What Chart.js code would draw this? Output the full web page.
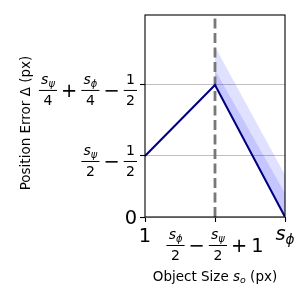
<!DOCTYPE html>
<html>
<head>
<meta charset="utf-8">
<script src="https://cdn.jsdelivr.net/npm/chart.js@4.4.0/dist/chart.umd.min.js"></script>
<style>
  html, body { margin: 0; padding: 0; background: #fff; }
</style>
</head>
<body>
<canvas id="chart" width="300" height="300"></canvas>
<script>
// tick positions (x is normalised: 1 -> 0, s_phi -> 1)
const xTicks = [0, 0.5, 1];
const yTicks = [0, 1, 2.164];
const yMax = 3.31;

// error curve
const lineX = [0, 0.5, 1];
const lineY = [1, 2.164, 0];

// shaded bands to the right of the split
const bandX = [0.5, 1];
const bandLowY = [2.164, 0];
const bandMidY = [2.41, 0.39];
const bandHighY = [2.79, 0.69];
const splitX = 0.5;

// tick label texts (math pieces)
const yTickText = [
    [{ t: '0' }],
    [{ frac: [[{ it: 's', sub: 'ψ' }], [{ t: '2' }]] }, { op: '−' }, { frac: [[{ t: '1' }], [{ t: '2' }]] }],
    [{ frac: [[{ it: 's', sub: 'ψ' }], [{ t: '4' }]] }, { op: '+' }, { frac: [[{ it: 's', sub: 'ϕ' }], [{ t: '4' }]] },
     { op: '−' }, { frac: [[{ t: '1' }], [{ t: '2' }]] }]
];
const xTickText = [
    [{ t: '1' }],
    [{ frac: [[{ it: 's', sub: 'ϕ' }], [{ t: '2' }]] }, { op: '−' }, { frac: [[{ it: 's', sub: 'ψ' }], [{ t: '2' }]] },
     { op: '+' }, { t: '1' }],
    [{ it: 's', sub: 'ϕ' }]
];
const xTitle = [{ t: 'Object Size ' }, { it: 's', sub: 'o' }, { t: ' (px)' }];
const yTitle = 'Position Error Δ (px)';

const BASE = 19.4, FRAC = 14, SUBK = 0.7, TITLE = 13.5;
const PAD = 2.2, OPSP = 4, AXIS = 0.33, NUMUP = 6.5, DENDN = 14.3;

function setFont(ctx, size, italic) {
    ctx.font = (italic ? 'italic ' : '') + size.toFixed(1) + 'px "DejaVu Sans"';
}

function runWidth(ctx, items, size) {
    return items.reduce((w, it) => w + itemWidth(ctx, it, size), 0);
}

function itemWidth(ctx, it, size) {
    if (it.frac) {
        return Math.max(runWidth(ctx, it.frac[0], FRAC), runWidth(ctx, it.frac[1], FRAC)) + 2 * PAD;
    }
    if (it.op) {
        setFont(ctx, size);
        return ctx.measureText(it.op).width + 2 * OPSP;
    }
    setFont(ctx, size, !!it.it);
    let w = ctx.measureText(it.it || it.t).width;
    if (it.sub) {
        setFont(ctx, size * SUBK, true);
        w += ctx.measureText(it.sub).width;
    }
    return w;
}

function drawRun(ctx, items, x, base, size) {
    for (const it of items) {
        const w = itemWidth(ctx, it, size);
        if (it.frac) {
            const bar = base - AXIS * size;
            ctx.fillRect(x, bar - 0.5, w, 1);
            const wn = runWidth(ctx, it.frac[0], FRAC);
            const wd = runWidth(ctx, it.frac[1], FRAC);
            drawRun(ctx, it.frac[0], x + (w - wn) / 2, bar - NUMUP, FRAC);
            drawRun(ctx, it.frac[1], x + (w - wd) / 2, bar + DENDN, FRAC);
        } else if (it.op) {
            setFont(ctx, size);
            ctx.fillText(it.op, x + OPSP, base);
        } else {
            const s = it.it || it.t;
            setFont(ctx, size, !!it.it);
            ctx.fillText(s, x, base);
            if (it.sub) {
                const w0 = ctx.measureText(s).width;
                setFont(ctx, size * SUBK, true);
                ctx.fillText(it.sub, x + w0, base + size * 0.2);
            }
        }
        x += w;
    }
}

function hasFrac(items) {
    return items.some(it => it.frac);
}

const mathLabels = {
    id: 'mathLabels',
    afterDraw(chart) {
        const ctx = chart.ctx;
        const area = chart.chartArea;
        const xs = chart.scales.x, ys = chart.scales.y;
        ctx.save();
        // frame
        ctx.strokeStyle = '#000';
        ctx.lineWidth = 1.1;
        ctx.strokeRect(area.left, area.top, area.right - area.left, area.bottom - area.top);

        ctx.fillStyle = '#000';
        ctx.textAlign = 'left';
        ctx.textBaseline = 'alphabetic';

        yTicks.forEach((v, i) => {
            const items = yTickText[i];
            const py = ys.getPixelForValue(v);
            const w = runWidth(ctx, items, BASE);
            const base = hasFrac(items) ? py + 5.5 + AXIS * BASE : py + 7;
            drawRun(ctx, items, area.left - 8 - w, base, BASE);
        });

        xTicks.forEach((v, i) => {
            const items = xTickText[i];
            const px = xs.getPixelForValue(v);
            const w = runWidth(ctx, items, BASE);
            let base = 242;
            if (hasFrac(items)) base = 245.5 + AXIS * BASE;
            else if (items[0].sub) base = 240;
            drawRun(ctx, items, px - w / 2, base, BASE);
        });

        // axis titles
        const tw = runWidth(ctx, xTitle, TITLE);
        drawRun(ctx, xTitle, (area.left + area.right) / 2 - tw / 2, 280.5, TITLE);

        ctx.translate(29.5, 123);
        ctx.rotate(-Math.PI / 2);
        setFont(ctx, TITLE);
        ctx.textAlign = 'center';
        ctx.fillText(yTitle, 0, 0);
        ctx.restore();
    }
};

const toPoints = (xv, yv) => xv.map((x, i) => ({ x: x, y: yv[i] }));

new Chart(document.getElementById('chart').getContext('2d'), {
    type: 'scatter',
    data: {
        datasets: [
            {
                data: toPoints(lineX, lineY),
                showLine: true,
                borderColor: '#000080',
                borderWidth: 2,
                pointRadius: 0,
                fill: false,
                order: 0
            },
            {
                data: [{ x: splitX, y: 0 }, { x: splitX, y: yMax }],
                showLine: true,
                borderColor: 'rgba(105,105,105,0.9)',
                borderWidth: 2.8,
                borderDash: [10, 4.5],
                pointRadius: 0,
                fill: false,
                order: 1
            },
            {
                data: toPoints(bandX, bandLowY),
                showLine: true,
                borderColor: 'rgba(0,0,0,0)',
                borderWidth: 0,
                pointRadius: 0,
                fill: false,
                order: 5
            },
            {
                data: toPoints(bandX, bandMidY),
                showLine: true,
                borderColor: 'rgba(0,0,0,0)',
                borderWidth: 0,
                pointRadius: 0,
                backgroundColor: 'rgba(0,0,255,0.12)',
                fill: 2,
                order: 3
            },
            {
                data: toPoints(bandX, bandHighY),
                showLine: true,
                borderColor: 'rgba(0,0,0,0)',
                borderWidth: 0,
                pointRadius: 0,
                backgroundColor: 'rgba(0,0,255,0.12)',
                fill: 2,
                order: 4
            }
        ]
    },
    options: {
        responsive: false,
        animation: false,
        layout: { padding: { top: 15, right: 15, left: 0, bottom: 0 } },
        plugins: {
            legend: { display: false },
            tooltip: { enabled: false }
        },
        scales: {
            x: {
                type: 'linear',
                min: 0,
                max: 1,
                afterBuildTicks: scale => { scale.ticks = xTicks.map(v => ({ value: v })); },
                afterFit: scale => { scale.height = 83; },
                ticks: { callback: () => '', autoSkip: false },
                grid: { drawOnChartArea: false, tickLength: 5, tickColor: '#000', tickWidth: 1.1 },
                border: { display: false }
            },
            y: {
                type: 'linear',
                min: 0,
                max: yMax,
                afterBuildTicks: scale => { scale.ticks = yTicks.map(v => ({ value: v })); },
                afterFit: scale => { scale.width = 145; },
                ticks: { callback: () => '', autoSkip: false },
                grid: { color: '#b0b0b0', lineWidth: 0.8, tickLength: 5, tickColor: '#000', tickWidth: 1.1 },
                border: { display: false }
            }
        }
    },
    plugins: [mathLabels]
});
</script>
</body>
</html>
